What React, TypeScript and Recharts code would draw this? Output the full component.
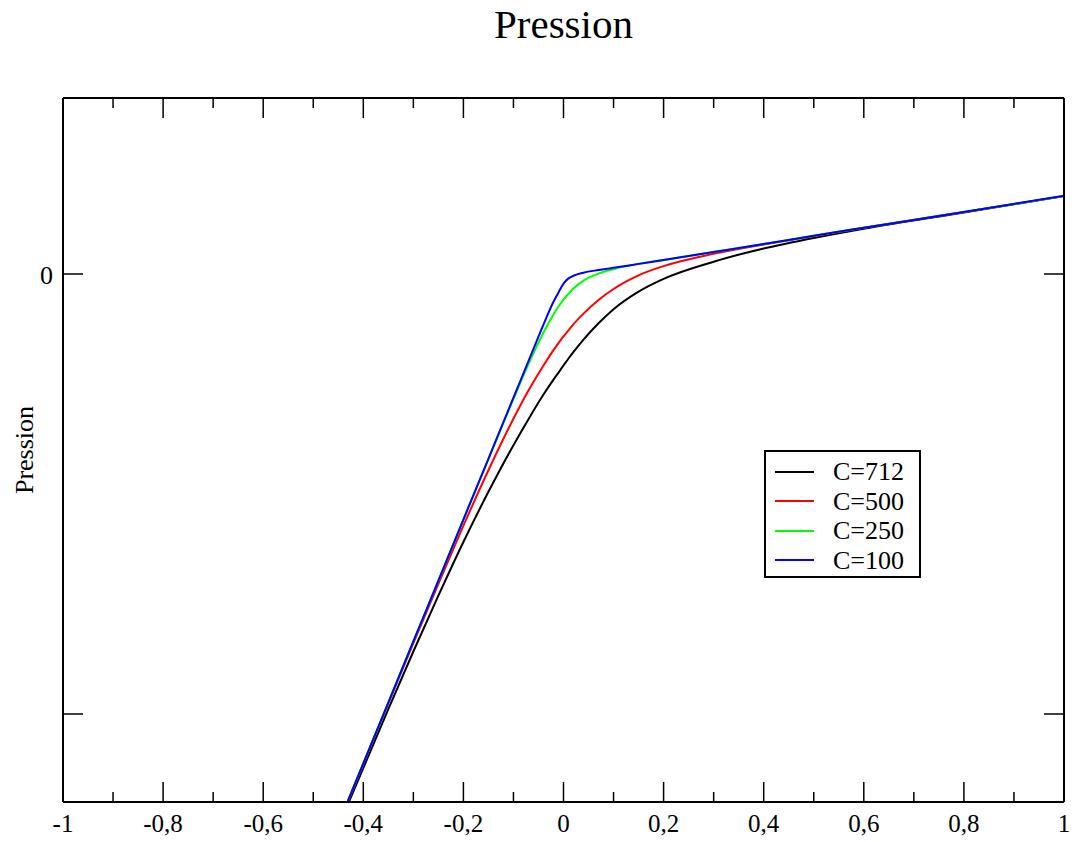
import React from 'react';
import { LineChart, Line, XAxis, YAxis, Legend } from 'recharts';

const FONT = '"Liberation Serif", "Times New Roman", serif';

// abscisses communes aux 4 courbes
const X = [-0.44, -0.35, -0.3, -0.25, -0.2, -0.15, -0.1, -0.07, -0.04, -0.02, -0.01, 0, 0.01, 0.02, 0.04, 0.07, 0.1, 0.15, 0.2, 0.3, 0.4, 0.5, 0.6, 0.8, 1];

// pression (unité = un grand pas de l'axe Y)
const C712 = [-1.23, -0.989, -0.858, -0.731, -0.609, -0.495, -0.389, -0.33, -0.274, -0.24, -0.224, -0.208, -0.192, -0.177, -0.149, -0.112, -0.08, -0.04, -0.011, 0.028, 0.058, 0.082, 0.103, 0.14, 0.177];
const C500 = [-1.224, -0.976, -0.839, -0.704, -0.572, -0.446, -0.329, -0.265, -0.208, -0.173, -0.157, -0.142, -0.128, -0.114, -0.09, -0.059, -0.034, -0.003, 0.018, 0.046, 0.067, 0.086, 0.105, 0.141, 0.177];
const C250 = [-1.223, -0.974, -0.835, -0.697, -0.558, -0.42, -0.284, -0.205, -0.133, -0.092, -0.074, -0.058, -0.045, -0.033, -0.015, 0.001, 0.011, 0.023, 0.032, 0.05, 0.068, 0.087, 0.105, 0.141, 0.177];
const C100 = [-1.223, -0.974, -0.835, -0.697, -0.558, -0.42, -0.281, -0.198, -0.115, -0.063, -0.042, -0.022, -0.01, -0.004, 0.003, 0.009, 0.014, 0.023, 0.032, 0.05, 0.068, 0.087, 0.105, 0.141, 0.178];

const X_TICKS = [-1, -0.9, -0.8, -0.7, -0.6, -0.5, -0.4, -0.3, -0.2, -0.1, 0, 0.1, 0.2, 0.3, 0.4, 0.5, 0.6, 0.7, 0.8, 0.9, 1];
const Y_TICKS = [-1, 0];

const SERIES = [
  { key: 'c712', name: 'C=712', color: '#000000', values: C712 },
  { key: 'c500', name: 'C=500', color: '#ff0000', values: C500 },
  { key: 'c250', name: 'C=250', color: '#00ff00', values: C250 },
  { key: 'c100', name: 'C=100', color: '#0000ff', values: C100 },
];

const data = X.map((x, i) => {
  const row: Record<string, number> = { x };
  SERIES.forEach((s) => {
    row[s.key] = s.values[i];
  });
  return row;
});

const fmt = (v: number) => String(Math.round(v * 10) / 10).replace('.', ',');

function BottomTick(props: any) {
  const { x, y, index, payload } = props;
  const major = index % 2 === 0;
  return (
    <g>
      <line x1={x} y1={y} x2={x} y2={y - (major ? 20 : 10)} stroke="#000" strokeWidth={1.5} />
      {major && (
        <text x={x} y={y + 30} textAnchor="middle" fontFamily={FONT} fontSize={25} fill="#000">
          {fmt(payload.value)}
        </text>
      )}
    </g>
  );
}

function TopTick(props: any) {
  const { x, y, index } = props;
  const major = index % 2 === 0;
  return <line x1={x} y1={y} x2={x} y2={y + (major ? 20 : 10)} stroke="#000" strokeWidth={1.5} />;
}

function LeftTick(props: any) {
  const { x, y, payload } = props;
  return (
    <g>
      <line x1={x} y1={y} x2={x + 20} y2={y} stroke="#000" strokeWidth={1.5} />
      {payload.value === 0 && (
        <text x={x - 10} y={y + 10} textAnchor="end" fontFamily={FONT} fontSize={26} fill="#000">
          0
        </text>
      )}
    </g>
  );
}

function RightTick(props: any) {
  const { x, y } = props;
  return <line x1={x} y1={y} x2={x - 20} y2={y} stroke="#000" strokeWidth={1.5} />;
}

function YLabel(props: any) {
  const vb = props.viewBox;
  const cx = vb.x + 10;
  const cy = vb.y + vb.height / 2;
  return (
    <text x={cx} y={cy} transform={`rotate(-90 ${cx} ${cy})`} textAnchor="middle" fontFamily={FONT} fontSize={26} fill="#000">
      Pression
    </text>
  );
}

function LegendBox() {
  return (
    <div
      style={{
        border: '2px solid #000',
        background: '#fff',
        width: 157,
        height: 128,
        boxSizing: 'border-box',
        paddingTop: 5,
        fontFamily: FONT,
        fontSize: 26,
        color: '#000',
      }}
    >
      {SERIES.map((s) => (
        <div key={s.key} style={{ display: 'flex', alignItems: 'center', height: 29.5 }}>
          <svg width={39} height={4} style={{ marginLeft: 9, marginRight: 19, display: 'block' }}>
            <line x1={0} y1={2} x2={39} y2={2} stroke={s.color} strokeWidth={2} />
          </svg>
          <span style={{ lineHeight: '29px' }}>{s.name}</span>
        </div>
      ))}
    </div>
  );
}

export default function App() {
  const axisLine = { stroke: '#000', strokeWidth: 2 };
  return (
    <div style={{ position: 'absolute', left: 0, top: 0, width: 1072, height: 842, background: '#fff', fontFamily: FONT }}>
      <div
        style={{
          position: 'absolute',
          left: 63,
          top: 4,
          width: 1001,
          textAlign: 'center',
          fontSize: 41,
          lineHeight: '41px',
          color: '#000',
        }}
      >
        Pression
      </div>
      <LineChart width={1072} height={842} data={data} margin={{ top: 97, right: 7, bottom: 0, left: 23 }}>
        <XAxis
          dataKey="x"
          type="number"
          domain={[-1, 1]}
          ticks={X_TICKS}
          interval={0}
          height={40}
          tickSize={0}
          tickMargin={0}
          tickLine={false}
          axisLine={axisLine}
          tick={<BottomTick />}
        />
        <XAxis
          xAxisId="top"
          orientation="top"
          dataKey="x"
          type="number"
          domain={[-1, 1]}
          ticks={X_TICKS}
          interval={0}
          height={1}
          tickSize={0}
          tickMargin={0}
          tickLine={false}
          axisLine={axisLine}
          tick={<TopTick />}
        />
        <YAxis
          type="number"
          domain={[-1.2, 0.4]}
          allowDataOverflow
          ticks={Y_TICKS}
          interval={0}
          width={40}
          tickSize={0}
          tickMargin={0}
          tickLine={false}
          axisLine={axisLine}
          tick={<LeftTick />}
          label={<YLabel />}
        />
        <YAxis
          yAxisId="right"
          orientation="right"
          type="number"
          domain={[-1.2, 0.4]}
          allowDataOverflow
          ticks={Y_TICKS}
          interval={0}
          width={1}
          tickSize={0}
          tickMargin={0}
          tickLine={false}
          axisLine={axisLine}
          tick={<RightTick />}
        />
        <Legend
          layout="vertical"
          verticalAlign="middle"
          align="center"
          wrapperStyle={{ left: 764, top: 450, width: 157 }}
          content={<LegendBox />}
        />
        {SERIES.map((s) => (
          <Line
            key={s.key}
            type="monotone"
            dataKey={s.key}
            name={s.name}
            stroke={s.color}
            strokeWidth={2}
            dot={false}
            activeDot={false}
            isAnimationActive={false}
          />
        ))}
      </LineChart>
    </div>
  );
}
